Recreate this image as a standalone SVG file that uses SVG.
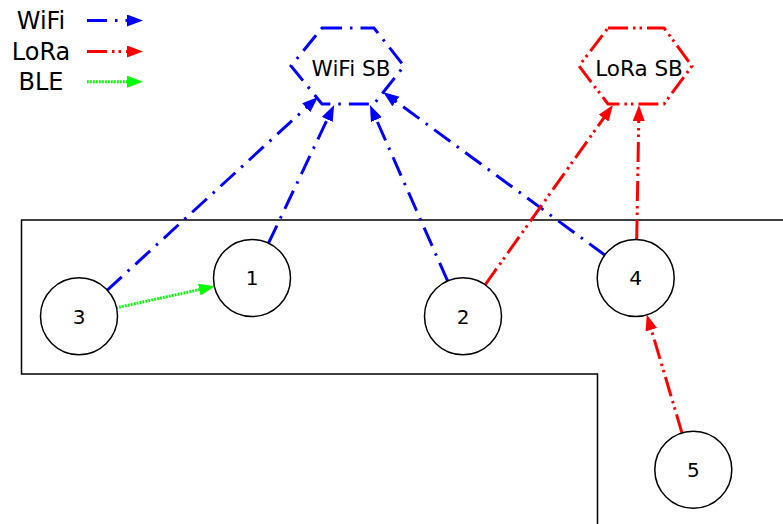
<svg xmlns="http://www.w3.org/2000/svg" width="783" height="524" viewBox="0 0 783 524">
<defs>
<style>
text{font-family:"DejaVu Sans","Liberation Sans",sans-serif;fill:#000}
.leg{font-size:24px;text-anchor:middle}
.lbl{font-size:21.5px;text-anchor:middle}
.num{font-size:20px;text-anchor:middle}
.node{fill:#fff;stroke:#000;stroke-width:1.5}
.wifi{fill:none;stroke:#0000ff;stroke-width:3;stroke-dasharray:20 8 2.5 8}
.lora{fill:none;stroke:#ff0000;stroke-width:3;stroke-dasharray:20 5 2.5 4 2.5 5}
.ble{fill:none;stroke:#00ff00;stroke-width:3;stroke-dasharray:1.8 1.2}
.wifi.c{marker-end:url(#ab)}
.lora.c{marker-end:url(#ar)}
.ble.c{marker-end:url(#ag)}
</style>
<marker id="ab" markerUnits="userSpaceOnUse" markerWidth="17" markerHeight="13" refX="4" refY="6" orient="auto"><path d="M0,0 L16,6 L0,12 z" fill="#0000ff"/></marker>
<marker id="ar" markerUnits="userSpaceOnUse" markerWidth="17" markerHeight="13" refX="4" refY="6" orient="auto"><path d="M0,0 L16,6 L0,12 z" fill="#ff0000"/></marker>
<marker id="ag" markerUnits="userSpaceOnUse" markerWidth="17" markerHeight="13" refX="4" refY="6" orient="auto"><path d="M0,0 L16,6 L0,12 z" fill="#00ff00"/></marker>
</defs>
<rect width="783" height="524" fill="#fff"/>
<g id="area">
<path d="M783,220 H21.5 V374 H597.5 V524" fill="none" stroke="#000" stroke-width="1.5"/>
</g>
<g id="legend">
<text class="leg" x="41" y="29">WiFi</text>
<text class="leg" x="41" y="59.5">LoRa</text>
<text class="leg" x="41" y="89.5">BLE</text>
<path class="wifi c" d="M87,20.5 H131"/>
<path class="lora c" d="M87,51.5 H131"/>
<path class="ble c" d="M87,81.7 H131"/>
</g>
<g id="connectors">
<path class="wifi c" d="M107,290.3 L309.2,105"/>
<path class="wifi c" d="M268.3,243.6 L329,115.8"/>
<path class="wifi c" d="M447.7,281.2 L374.8,116"/>
<path class="wifi c" d="M605.4,255.5 L392.7,99.1"/>
<path class="lora c" d="M485,285 L606,114.8"/>
<path class="lora c" d="M636.7,240 L638.8,117"/>
<path class="lora c" d="M682.2,433.6 L650.2,325.9"/>
<path class="ble c" d="M116.1,307.8 L203.2,288.8"/>
</g>
<g id="wifi-sb">
<polygon class="wifi" points="322,28 374,28 404,66 374,104 322,104 291,66"/>
<text class="lbl" x="351" y="76">WiFi SB</text>
</g>
<g id="lora-sb">
<polygon class="lora" points="608,28 664,28 692,66 664,104 608,104 579,66"/>
<text class="lbl" x="639" y="76">LoRa SB</text>
</g>
<g id="n1"><circle class="node" cx="252" cy="278" r="38.5"/><text class="num" x="252" y="285.2">1</text></g>
<g id="n2"><circle class="node" cx="463" cy="316.3" r="38.5"/><text class="num" x="463" y="323.5">2</text></g>
<g id="n3"><circle class="node" cx="79" cy="316.3" r="38.5"/><text class="num" x="79" y="323.5">3</text></g>
<g id="n4"><circle class="node" cx="635.7" cy="278" r="38.5"/><text class="num" x="635.7" y="285.2">4</text></g>
<g id="n5"><circle class="node" cx="693.3" cy="469.7" r="38.5"/><text class="num" x="693.3" y="476.9">5</text></g>
</svg>
